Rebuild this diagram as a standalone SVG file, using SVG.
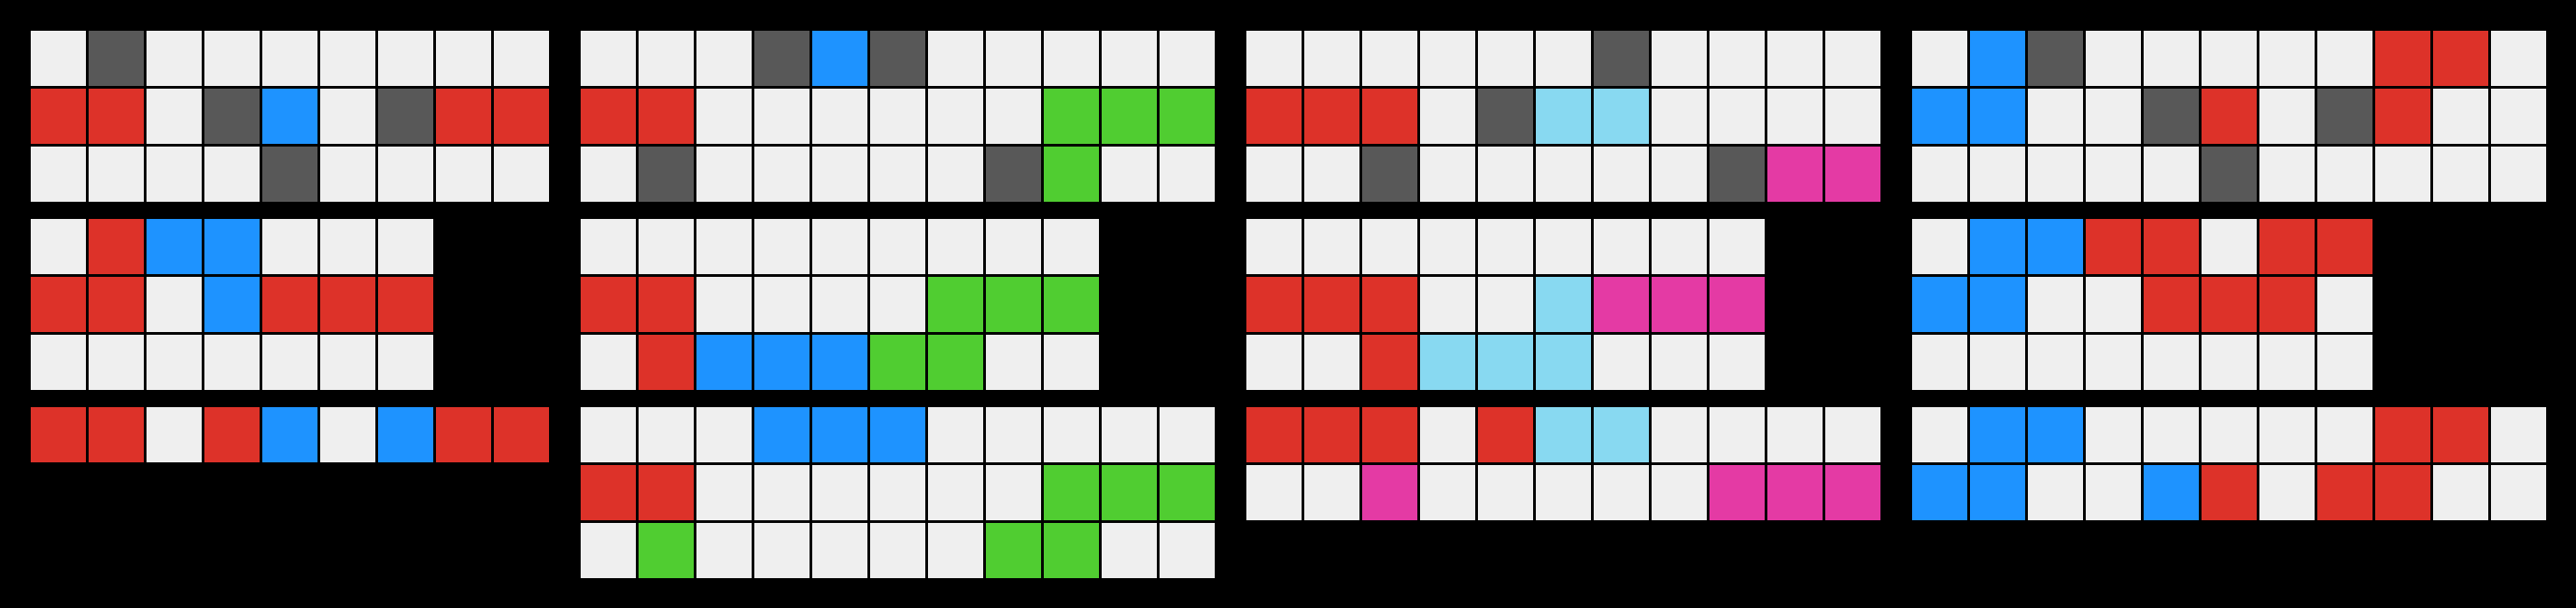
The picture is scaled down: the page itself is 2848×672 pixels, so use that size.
<svg xmlns="http://www.w3.org/2000/svg" width="2848" height="672" viewBox="0 0 2848 672">
<style>
rect.c{width:61px;height:61px}
.W{fill:#EFEFEF}.D{fill:#585858}.R{fill:#DD3229}.B{fill:#1E93FF}.G{fill:#50CD31}.M{fill:#E43AA4}.L{fill:#88D9F1}
</style>
<rect x="0" y="0" width="2848" height="672" fill="#000000"/>
<g id="p1a" transform="translate(34,34)">
<rect class="c W" x="0" y="0" width="61" height="61"/><rect class="c D" x="64" y="0" width="61" height="61"/><rect class="c W" x="128" y="0" width="61" height="61"/><rect class="c W" x="192" y="0" width="61" height="61"/><rect class="c W" x="256" y="0" width="61" height="61"/><rect class="c W" x="320" y="0" width="61" height="61"/><rect class="c W" x="384" y="0" width="61" height="61"/><rect class="c W" x="448" y="0" width="61" height="61"/><rect class="c W" x="512" y="0" width="61" height="61"/>
<rect class="c R" x="0" y="64" width="61" height="61"/><rect class="c R" x="64" y="64" width="61" height="61"/><rect class="c W" x="128" y="64" width="61" height="61"/><rect class="c D" x="192" y="64" width="61" height="61"/><rect class="c B" x="256" y="64" width="61" height="61"/><rect class="c W" x="320" y="64" width="61" height="61"/><rect class="c D" x="384" y="64" width="61" height="61"/><rect class="c R" x="448" y="64" width="61" height="61"/><rect class="c R" x="512" y="64" width="61" height="61"/>
<rect class="c W" x="0" y="128" width="61" height="61"/><rect class="c W" x="64" y="128" width="61" height="61"/><rect class="c W" x="128" y="128" width="61" height="61"/><rect class="c W" x="192" y="128" width="61" height="61"/><rect class="c D" x="256" y="128" width="61" height="61"/><rect class="c W" x="320" y="128" width="61" height="61"/><rect class="c W" x="384" y="128" width="61" height="61"/><rect class="c W" x="448" y="128" width="61" height="61"/><rect class="c W" x="512" y="128" width="61" height="61"/>
</g>
<g id="p1b" transform="translate(34,242)">
<rect class="c W" x="0" y="0" width="61" height="61"/><rect class="c R" x="64" y="0" width="61" height="61"/><rect class="c B" x="128" y="0" width="61" height="61"/><rect class="c B" x="192" y="0" width="61" height="61"/><rect class="c W" x="256" y="0" width="61" height="61"/><rect class="c W" x="320" y="0" width="61" height="61"/><rect class="c W" x="384" y="0" width="61" height="61"/>
<rect class="c R" x="0" y="64" width="61" height="61"/><rect class="c R" x="64" y="64" width="61" height="61"/><rect class="c W" x="128" y="64" width="61" height="61"/><rect class="c B" x="192" y="64" width="61" height="61"/><rect class="c R" x="256" y="64" width="61" height="61"/><rect class="c R" x="320" y="64" width="61" height="61"/><rect class="c R" x="384" y="64" width="61" height="61"/>
<rect class="c W" x="0" y="128" width="61" height="61"/><rect class="c W" x="64" y="128" width="61" height="61"/><rect class="c W" x="128" y="128" width="61" height="61"/><rect class="c W" x="192" y="128" width="61" height="61"/><rect class="c W" x="256" y="128" width="61" height="61"/><rect class="c W" x="320" y="128" width="61" height="61"/><rect class="c W" x="384" y="128" width="61" height="61"/>
</g>
<g id="p1c" transform="translate(34,450)">
<rect class="c R" x="0" y="0" width="61" height="61"/><rect class="c R" x="64" y="0" width="61" height="61"/><rect class="c W" x="128" y="0" width="61" height="61"/><rect class="c R" x="192" y="0" width="61" height="61"/><rect class="c B" x="256" y="0" width="61" height="61"/><rect class="c W" x="320" y="0" width="61" height="61"/><rect class="c B" x="384" y="0" width="61" height="61"/><rect class="c R" x="448" y="0" width="61" height="61"/><rect class="c R" x="512" y="0" width="61" height="61"/>
</g>
<g id="p2a" transform="translate(642,34)">
<rect class="c W" x="0" y="0" width="61" height="61"/><rect class="c W" x="64" y="0" width="61" height="61"/><rect class="c W" x="128" y="0" width="61" height="61"/><rect class="c D" x="192" y="0" width="61" height="61"/><rect class="c B" x="256" y="0" width="61" height="61"/><rect class="c D" x="320" y="0" width="61" height="61"/><rect class="c W" x="384" y="0" width="61" height="61"/><rect class="c W" x="448" y="0" width="61" height="61"/><rect class="c W" x="512" y="0" width="61" height="61"/><rect class="c W" x="576" y="0" width="61" height="61"/><rect class="c W" x="640" y="0" width="61" height="61"/>
<rect class="c R" x="0" y="64" width="61" height="61"/><rect class="c R" x="64" y="64" width="61" height="61"/><rect class="c W" x="128" y="64" width="61" height="61"/><rect class="c W" x="192" y="64" width="61" height="61"/><rect class="c W" x="256" y="64" width="61" height="61"/><rect class="c W" x="320" y="64" width="61" height="61"/><rect class="c W" x="384" y="64" width="61" height="61"/><rect class="c W" x="448" y="64" width="61" height="61"/><rect class="c G" x="512" y="64" width="61" height="61"/><rect class="c G" x="576" y="64" width="61" height="61"/><rect class="c G" x="640" y="64" width="61" height="61"/>
<rect class="c W" x="0" y="128" width="61" height="61"/><rect class="c D" x="64" y="128" width="61" height="61"/><rect class="c W" x="128" y="128" width="61" height="61"/><rect class="c W" x="192" y="128" width="61" height="61"/><rect class="c W" x="256" y="128" width="61" height="61"/><rect class="c W" x="320" y="128" width="61" height="61"/><rect class="c W" x="384" y="128" width="61" height="61"/><rect class="c D" x="448" y="128" width="61" height="61"/><rect class="c G" x="512" y="128" width="61" height="61"/><rect class="c W" x="576" y="128" width="61" height="61"/><rect class="c W" x="640" y="128" width="61" height="61"/>
</g>
<g id="p2b" transform="translate(642,242)">
<rect class="c W" x="0" y="0" width="61" height="61"/><rect class="c W" x="64" y="0" width="61" height="61"/><rect class="c W" x="128" y="0" width="61" height="61"/><rect class="c W" x="192" y="0" width="61" height="61"/><rect class="c W" x="256" y="0" width="61" height="61"/><rect class="c W" x="320" y="0" width="61" height="61"/><rect class="c W" x="384" y="0" width="61" height="61"/><rect class="c W" x="448" y="0" width="61" height="61"/><rect class="c W" x="512" y="0" width="61" height="61"/>
<rect class="c R" x="0" y="64" width="61" height="61"/><rect class="c R" x="64" y="64" width="61" height="61"/><rect class="c W" x="128" y="64" width="61" height="61"/><rect class="c W" x="192" y="64" width="61" height="61"/><rect class="c W" x="256" y="64" width="61" height="61"/><rect class="c W" x="320" y="64" width="61" height="61"/><rect class="c G" x="384" y="64" width="61" height="61"/><rect class="c G" x="448" y="64" width="61" height="61"/><rect class="c G" x="512" y="64" width="61" height="61"/>
<rect class="c W" x="0" y="128" width="61" height="61"/><rect class="c R" x="64" y="128" width="61" height="61"/><rect class="c B" x="128" y="128" width="61" height="61"/><rect class="c B" x="192" y="128" width="61" height="61"/><rect class="c B" x="256" y="128" width="61" height="61"/><rect class="c G" x="320" y="128" width="61" height="61"/><rect class="c G" x="384" y="128" width="61" height="61"/><rect class="c W" x="448" y="128" width="61" height="61"/><rect class="c W" x="512" y="128" width="61" height="61"/>
</g>
<g id="p2c" transform="translate(642,450)">
<rect class="c W" x="0" y="0" width="61" height="61"/><rect class="c W" x="64" y="0" width="61" height="61"/><rect class="c W" x="128" y="0" width="61" height="61"/><rect class="c B" x="192" y="0" width="61" height="61"/><rect class="c B" x="256" y="0" width="61" height="61"/><rect class="c B" x="320" y="0" width="61" height="61"/><rect class="c W" x="384" y="0" width="61" height="61"/><rect class="c W" x="448" y="0" width="61" height="61"/><rect class="c W" x="512" y="0" width="61" height="61"/><rect class="c W" x="576" y="0" width="61" height="61"/><rect class="c W" x="640" y="0" width="61" height="61"/>
<rect class="c R" x="0" y="64" width="61" height="61"/><rect class="c R" x="64" y="64" width="61" height="61"/><rect class="c W" x="128" y="64" width="61" height="61"/><rect class="c W" x="192" y="64" width="61" height="61"/><rect class="c W" x="256" y="64" width="61" height="61"/><rect class="c W" x="320" y="64" width="61" height="61"/><rect class="c W" x="384" y="64" width="61" height="61"/><rect class="c W" x="448" y="64" width="61" height="61"/><rect class="c G" x="512" y="64" width="61" height="61"/><rect class="c G" x="576" y="64" width="61" height="61"/><rect class="c G" x="640" y="64" width="61" height="61"/>
<rect class="c W" x="0" y="128" width="61" height="61"/><rect class="c G" x="64" y="128" width="61" height="61"/><rect class="c W" x="128" y="128" width="61" height="61"/><rect class="c W" x="192" y="128" width="61" height="61"/><rect class="c W" x="256" y="128" width="61" height="61"/><rect class="c W" x="320" y="128" width="61" height="61"/><rect class="c W" x="384" y="128" width="61" height="61"/><rect class="c G" x="448" y="128" width="61" height="61"/><rect class="c G" x="512" y="128" width="61" height="61"/><rect class="c W" x="576" y="128" width="61" height="61"/><rect class="c W" x="640" y="128" width="61" height="61"/>
</g>
<g id="p3a" transform="translate(1378,34)">
<rect class="c W" x="0" y="0" width="61" height="61"/><rect class="c W" x="64" y="0" width="61" height="61"/><rect class="c W" x="128" y="0" width="61" height="61"/><rect class="c W" x="192" y="0" width="61" height="61"/><rect class="c W" x="256" y="0" width="61" height="61"/><rect class="c W" x="320" y="0" width="61" height="61"/><rect class="c D" x="384" y="0" width="61" height="61"/><rect class="c W" x="448" y="0" width="61" height="61"/><rect class="c W" x="512" y="0" width="61" height="61"/><rect class="c W" x="576" y="0" width="61" height="61"/><rect class="c W" x="640" y="0" width="61" height="61"/>
<rect class="c R" x="0" y="64" width="61" height="61"/><rect class="c R" x="64" y="64" width="61" height="61"/><rect class="c R" x="128" y="64" width="61" height="61"/><rect class="c W" x="192" y="64" width="61" height="61"/><rect class="c D" x="256" y="64" width="61" height="61"/><rect class="c L" x="320" y="64" width="61" height="61"/><rect class="c L" x="384" y="64" width="61" height="61"/><rect class="c W" x="448" y="64" width="61" height="61"/><rect class="c W" x="512" y="64" width="61" height="61"/><rect class="c W" x="576" y="64" width="61" height="61"/><rect class="c W" x="640" y="64" width="61" height="61"/>
<rect class="c W" x="0" y="128" width="61" height="61"/><rect class="c W" x="64" y="128" width="61" height="61"/><rect class="c D" x="128" y="128" width="61" height="61"/><rect class="c W" x="192" y="128" width="61" height="61"/><rect class="c W" x="256" y="128" width="61" height="61"/><rect class="c W" x="320" y="128" width="61" height="61"/><rect class="c W" x="384" y="128" width="61" height="61"/><rect class="c W" x="448" y="128" width="61" height="61"/><rect class="c D" x="512" y="128" width="61" height="61"/><rect class="c M" x="576" y="128" width="61" height="61"/><rect class="c M" x="640" y="128" width="61" height="61"/>
</g>
<g id="p3b" transform="translate(1378,242)">
<rect class="c W" x="0" y="0" width="61" height="61"/><rect class="c W" x="64" y="0" width="61" height="61"/><rect class="c W" x="128" y="0" width="61" height="61"/><rect class="c W" x="192" y="0" width="61" height="61"/><rect class="c W" x="256" y="0" width="61" height="61"/><rect class="c W" x="320" y="0" width="61" height="61"/><rect class="c W" x="384" y="0" width="61" height="61"/><rect class="c W" x="448" y="0" width="61" height="61"/><rect class="c W" x="512" y="0" width="61" height="61"/>
<rect class="c R" x="0" y="64" width="61" height="61"/><rect class="c R" x="64" y="64" width="61" height="61"/><rect class="c R" x="128" y="64" width="61" height="61"/><rect class="c W" x="192" y="64" width="61" height="61"/><rect class="c W" x="256" y="64" width="61" height="61"/><rect class="c L" x="320" y="64" width="61" height="61"/><rect class="c M" x="384" y="64" width="61" height="61"/><rect class="c M" x="448" y="64" width="61" height="61"/><rect class="c M" x="512" y="64" width="61" height="61"/>
<rect class="c W" x="0" y="128" width="61" height="61"/><rect class="c W" x="64" y="128" width="61" height="61"/><rect class="c R" x="128" y="128" width="61" height="61"/><rect class="c L" x="192" y="128" width="61" height="61"/><rect class="c L" x="256" y="128" width="61" height="61"/><rect class="c L" x="320" y="128" width="61" height="61"/><rect class="c W" x="384" y="128" width="61" height="61"/><rect class="c W" x="448" y="128" width="61" height="61"/><rect class="c W" x="512" y="128" width="61" height="61"/>
</g>
<g id="p3c" transform="translate(1378,450)">
<rect class="c R" x="0" y="0" width="61" height="61"/><rect class="c R" x="64" y="0" width="61" height="61"/><rect class="c R" x="128" y="0" width="61" height="61"/><rect class="c W" x="192" y="0" width="61" height="61"/><rect class="c R" x="256" y="0" width="61" height="61"/><rect class="c L" x="320" y="0" width="61" height="61"/><rect class="c L" x="384" y="0" width="61" height="61"/><rect class="c W" x="448" y="0" width="61" height="61"/><rect class="c W" x="512" y="0" width="61" height="61"/><rect class="c W" x="576" y="0" width="61" height="61"/><rect class="c W" x="640" y="0" width="61" height="61"/>
<rect class="c W" x="0" y="64" width="61" height="61"/><rect class="c W" x="64" y="64" width="61" height="61"/><rect class="c M" x="128" y="64" width="61" height="61"/><rect class="c W" x="192" y="64" width="61" height="61"/><rect class="c W" x="256" y="64" width="61" height="61"/><rect class="c W" x="320" y="64" width="61" height="61"/><rect class="c W" x="384" y="64" width="61" height="61"/><rect class="c W" x="448" y="64" width="61" height="61"/><rect class="c M" x="512" y="64" width="61" height="61"/><rect class="c M" x="576" y="64" width="61" height="61"/><rect class="c M" x="640" y="64" width="61" height="61"/>
</g>
<g id="p4a" transform="translate(2114,34)">
<rect class="c W" x="0" y="0" width="61" height="61"/><rect class="c B" x="64" y="0" width="61" height="61"/><rect class="c D" x="128" y="0" width="61" height="61"/><rect class="c W" x="192" y="0" width="61" height="61"/><rect class="c W" x="256" y="0" width="61" height="61"/><rect class="c W" x="320" y="0" width="61" height="61"/><rect class="c W" x="384" y="0" width="61" height="61"/><rect class="c W" x="448" y="0" width="61" height="61"/><rect class="c R" x="512" y="0" width="61" height="61"/><rect class="c R" x="576" y="0" width="61" height="61"/><rect class="c W" x="640" y="0" width="61" height="61"/>
<rect class="c B" x="0" y="64" width="61" height="61"/><rect class="c B" x="64" y="64" width="61" height="61"/><rect class="c W" x="128" y="64" width="61" height="61"/><rect class="c W" x="192" y="64" width="61" height="61"/><rect class="c D" x="256" y="64" width="61" height="61"/><rect class="c R" x="320" y="64" width="61" height="61"/><rect class="c W" x="384" y="64" width="61" height="61"/><rect class="c D" x="448" y="64" width="61" height="61"/><rect class="c R" x="512" y="64" width="61" height="61"/><rect class="c W" x="576" y="64" width="61" height="61"/><rect class="c W" x="640" y="64" width="61" height="61"/>
<rect class="c W" x="0" y="128" width="61" height="61"/><rect class="c W" x="64" y="128" width="61" height="61"/><rect class="c W" x="128" y="128" width="61" height="61"/><rect class="c W" x="192" y="128" width="61" height="61"/><rect class="c W" x="256" y="128" width="61" height="61"/><rect class="c D" x="320" y="128" width="61" height="61"/><rect class="c W" x="384" y="128" width="61" height="61"/><rect class="c W" x="448" y="128" width="61" height="61"/><rect class="c W" x="512" y="128" width="61" height="61"/><rect class="c W" x="576" y="128" width="61" height="61"/><rect class="c W" x="640" y="128" width="61" height="61"/>
</g>
<g id="p4b" transform="translate(2114,242)">
<rect class="c W" x="0" y="0" width="61" height="61"/><rect class="c B" x="64" y="0" width="61" height="61"/><rect class="c B" x="128" y="0" width="61" height="61"/><rect class="c R" x="192" y="0" width="61" height="61"/><rect class="c R" x="256" y="0" width="61" height="61"/><rect class="c W" x="320" y="0" width="61" height="61"/><rect class="c R" x="384" y="0" width="61" height="61"/><rect class="c R" x="448" y="0" width="61" height="61"/>
<rect class="c B" x="0" y="64" width="61" height="61"/><rect class="c B" x="64" y="64" width="61" height="61"/><rect class="c W" x="128" y="64" width="61" height="61"/><rect class="c W" x="192" y="64" width="61" height="61"/><rect class="c R" x="256" y="64" width="61" height="61"/><rect class="c R" x="320" y="64" width="61" height="61"/><rect class="c R" x="384" y="64" width="61" height="61"/><rect class="c W" x="448" y="64" width="61" height="61"/>
<rect class="c W" x="0" y="128" width="61" height="61"/><rect class="c W" x="64" y="128" width="61" height="61"/><rect class="c W" x="128" y="128" width="61" height="61"/><rect class="c W" x="192" y="128" width="61" height="61"/><rect class="c W" x="256" y="128" width="61" height="61"/><rect class="c W" x="320" y="128" width="61" height="61"/><rect class="c W" x="384" y="128" width="61" height="61"/><rect class="c W" x="448" y="128" width="61" height="61"/>
</g>
<g id="p4c" transform="translate(2114,450)">
<rect class="c W" x="0" y="0" width="61" height="61"/><rect class="c B" x="64" y="0" width="61" height="61"/><rect class="c B" x="128" y="0" width="61" height="61"/><rect class="c W" x="192" y="0" width="61" height="61"/><rect class="c W" x="256" y="0" width="61" height="61"/><rect class="c W" x="320" y="0" width="61" height="61"/><rect class="c W" x="384" y="0" width="61" height="61"/><rect class="c W" x="448" y="0" width="61" height="61"/><rect class="c R" x="512" y="0" width="61" height="61"/><rect class="c R" x="576" y="0" width="61" height="61"/><rect class="c W" x="640" y="0" width="61" height="61"/>
<rect class="c B" x="0" y="64" width="61" height="61"/><rect class="c B" x="64" y="64" width="61" height="61"/><rect class="c W" x="128" y="64" width="61" height="61"/><rect class="c W" x="192" y="64" width="61" height="61"/><rect class="c B" x="256" y="64" width="61" height="61"/><rect class="c R" x="320" y="64" width="61" height="61"/><rect class="c W" x="384" y="64" width="61" height="61"/><rect class="c R" x="448" y="64" width="61" height="61"/><rect class="c R" x="512" y="64" width="61" height="61"/><rect class="c W" x="576" y="64" width="61" height="61"/><rect class="c W" x="640" y="64" width="61" height="61"/>
</g>
<g id="connectors"></g>
</svg>
